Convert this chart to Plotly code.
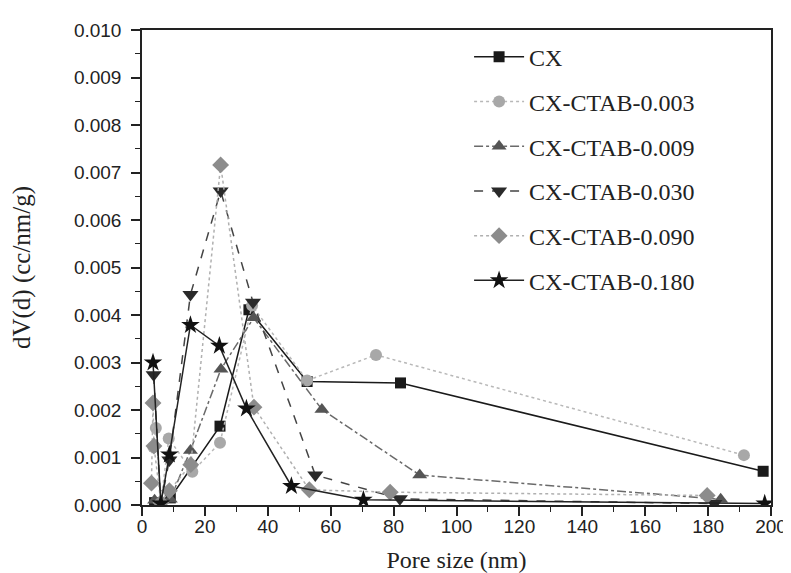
import plotly.graph_objects as go

# Pore size (nm) and dV(d) (cc/nm/g)
cx_x = [4.0, 6.0, 9.0, 24.8, 34.0, 52.5, 82.2, 197.5]
cx_y = [0.00005, 0.00003, 0.00015, 0.00166, 0.00411, 0.00260, 0.00257, 0.00071]

c003_x = [3.6, 4.4, 6.0, 8.5, 16.0, 24.8, 35.0, 52.5, 74.4, 191.4]
c003_y = [0.00122, 0.00162, 0.00005, 0.00140, 0.00070, 0.00131, 0.00420, 0.00262, 0.00316, 0.00105]

c009_x = [4.0, 6.0, 9.0, 15.4, 25.1, 35.5, 57.2, 88.3, 184.0]
c009_y = [0.00010, 0.00003, 0.00012, 0.00115, 0.00286, 0.00394, 0.00201, 0.00063, 0.00012]

c030_x = [3.7, 6.0, 8.7, 15.4, 25.0, 35.3, 55.1, 82.0, 182.0]
c030_y = [0.00274, 0.00003, 0.00095, 0.00443, 0.00661, 0.00427, 0.00063, 0.00013, 0.00003]

c090_x = [3.0, 3.5, 3.8, 6.0, 8.7, 15.5, 25.0, 35.6, 53.2, 78.9, 179.7]
c090_y = [0.00046, 0.00215, 0.00124, 0.00005, 0.00030, 0.00085, 0.00716, 0.00206, 0.00032, 0.00027, 0.00020]

c180_x = [3.5, 6.0, 8.7, 15.4, 24.6, 33.2, 47.5, 70.4, 198.0]
c180_y = [0.00300, 0.00003, 0.00106, 0.00379, 0.00335, 0.00203, 0.00040, 0.00011, 0.00003]

names = ["CX", "CX-CTAB-0.003", "CX-CTAB-0.009", "CX-CTAB-0.030", "CX-CTAB-0.090", "CX-CTAB-0.180"]

series = [
    (cx_x, cx_y, "#1a1a1a", "#1a1a1a", "solid", "square", 11),
    (c003_x, c003_y, "#b8b8b8", "#a8a8a8", "dot", "circle", 12),
    (c009_x, c009_y, "#6a6a6a", "#555555", "dashdot", "triangle-up", 13),
    (c030_x, c030_y, "#444444", "#2a2a2a", "dash", "triangle-down", 14),
    (c090_x, c090_y, "#b0b0b0", "#8c8c8c", "dot", "diamond", 13),
    (c180_x, c180_y, "#222222", "#111111", "solid", "star", 14),
]

fig = go.Figure()
for i, (xs, ys, lc, mc, dash, sym, ms) in enumerate(series):
    fig.add_trace(go.Scatter(
        x=xs, y=ys, name=names[i], mode="lines+markers",
        legendgroup=f"g{i}",
        line=dict(color=lc, width=1.5, dash=dash),
        marker=dict(symbol=sym, size=ms, color=mc, line=dict(width=0)),
    ))

axis_font = dict(family="Liberation Sans, Arial", size=19, color="#222")
serif = "Liberation Serif, Times New Roman"
fig.update_layout(
    width=791, height=573,
    margin=dict(l=134, r=18, t=22, b=76),
    paper_bgcolor="white", plot_bgcolor="white",
    showlegend=True,
    legend=dict(
        x=0.52, y=0.99, xanchor="left", yanchor="top",
        font=dict(family=serif, size=24, color="#222"),
        bgcolor="rgba(0,0,0,0)", tracegroupgap=10.5, itemwidth=50,
        traceorder="grouped",
    ),
    xaxis=dict(
        range=[0, 200], tick0=0, dtick=20, ticks="outside", ticklen=9, tickwidth=1.5,
        tickcolor="#222", showline=True, linecolor="#222", linewidth=1.5, mirror=True,
        showgrid=False, zeroline=False, tickfont=axis_font, ticklabelstandoff=-6,
        minor=dict(dtick=10, ticks="outside", ticklen=5, tickcolor="#222", tickwidth=1.2),
        title=dict(text="Pore size (nm)", font=dict(family=serif, size=24, color="#222"), standoff=16),
    ),
    yaxis=dict(
        range=[0, 0.010], tick0=0, dtick=0.001, tickformat=".3f", ticks="outside", ticklen=9,
        tickwidth=1.5, tickcolor="#222", showline=True, linecolor="#222", linewidth=1.5,
        mirror=True, showgrid=False, zeroline=False, tickfont=axis_font, ticklabelstandoff=6,
        minor=dict(dtick=0.0005, ticks="outside", ticklen=5, tickcolor="#222", tickwidth=1.2),
        title=dict(text="dV(d) (cc/nm/g)", font=dict(family=serif, size=25, color="#222"), standoff=36),
    ),
)

fig.write_html("out.html")
